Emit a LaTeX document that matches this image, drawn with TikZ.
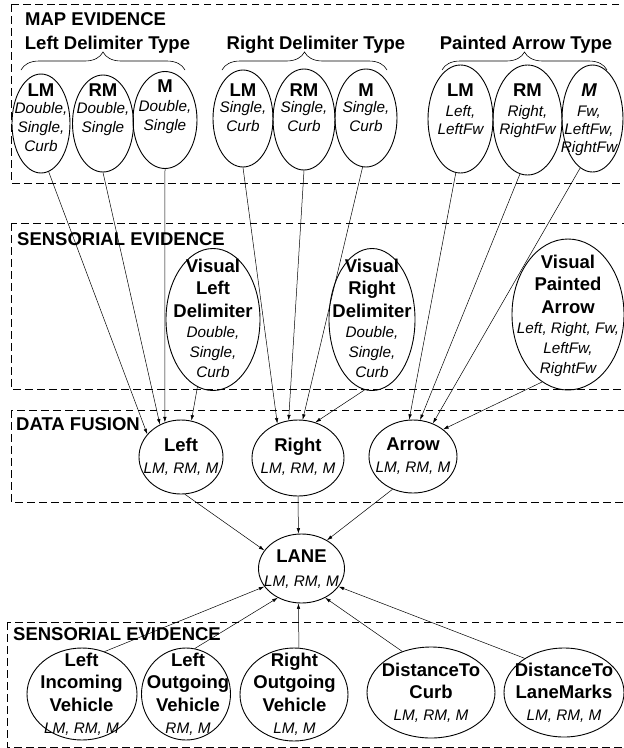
\documentclass[tikz,border=0pt]{standalone}
\usepackage{fontspec}
\setmainfont{Liberation Sans}
\usetikzlibrary{shapes.geometric,arrows.meta,decorations.pathreplacing}
\newcommand\BFl[1]{{\fontsize{18.5}{18.5}\selectfont\bfseries\upshape #1}}
\newcommand\BFi[1]{{\fontsize{18.5}{18.5}\selectfont\bfseries\itshape #1}}
\begin{document}
\begin{tikzpicture}[x=1pt,y=-1pt,
  ell/.style={draw, ellipse, inner sep=0pt, line width=0.9pt},
  tx/.style={align=center, inner sep=0pt, anchor=north, font=\fontsize{15.3}{#1}\selectfont\itshape},
  ttl/.style={inner sep=0pt, anchor=base, font=\fontsize{18.5}{22}\selectfont\bfseries},
  dbox/.style={draw, line width=0.9pt, dash pattern=on 7.5pt off 4.5pt},
  arr/.style={line width=0.5pt, -{Latex[length=5.5pt,width=3.5pt]}},
  brc/.style={decorate, decoration={brace, amplitude=18pt}, line width=0.6pt}]
\useasboundingbox (0,0) rectangle (624,748);

% dashed boxes
\draw[dbox] (11,4) rectangle (628,183);
\draw[dbox] (11,223) rectangle (628,389);
\draw[dbox] (11,410) rectangle (628,502);
\draw[dbox] (7,622) rectangle (628,747);

% titles
\node[ttl, anchor=base west] (mapT) at (25,25) {MAP EVIDENCE};
\node[ttl] (ldt) at (107.5,49) {Left Delimiter Type};
\node[ttl] (rdt) at (316,49) {Right Delimiter Type};
\node[ttl] (pat) at (526,49) {Painted Arrow Type};
\node[ttl, anchor=base west] (seT) at (17,245) {SENSORIAL EVIDENCE};
\node[ttl, anchor=base west] (dfT) at (16,430) {DATA FUSION};
\node[ttl, anchor=base west] (seB) at (13,640) {SENSORIAL EVIDENCE};

% braces
\draw[brc] (21,70) -- (185,70);
\draw[brc] (222,70) -- (387,70);
\draw[brc] (442,70) -- (607,70);

% map evidence ellipses
\node[ell, minimum width=58pt, minimum height=99pt] (ll1) at (41,123.5) {};
\node[ell, minimum width=61pt, minimum height=97pt] (ll2) at (103,123.5) {};
\node[ell, minimum width=64pt, minimum height=97pt] (ll3) at (165,120) {};
\node[ell, minimum width=60pt, minimum height=97pt] (rl1) at (243,118.5) {};
\node[ell, minimum width=62pt, minimum height=101pt] (rl2) at (304,119.5) {};
\node[ell, minimum width=62pt, minimum height=98pt] (rl3) at (366,118) {};
\node[ell, minimum width=65pt, minimum height=108pt] (pl1) at (460.5,119) {};
\node[ell, minimum width=69pt, minimum height=110pt] (pl2) at (527.5,120) {};
\node[ell, minimum width=61pt, minimum height=107pt] (pl3) at (592.5,118.5) {};

\node[tx=19] (ll1t) at (41,83.7) {\BFl{LM}\\[-2pt]Double,\\Single,\\Curb};
\node[tx=19] (ll2t) at (103,83.7) {\BFl{RM}\\[-2pt]Double,\\Single};
\node[tx=19] (ll3t) at (165,79.4) {\BFl{M}\\Double,\\Single};
\node[tx=18.4] (rl1t) at (243,83.4) {\BFl{LM}\\[-1.8pt]Single,\\Curb};
\node[tx=18.4] (rl2t) at (304,83.4) {\BFl{RM}\\[-1.8pt]Single,\\Curb};
\node[tx=18.4] (rl3t) at (366,83.4) {\BFl{M}\\[-1.8pt]Single,\\Curb};
\node[tx=18.3] (pl1t) at (460.5,83.4) {\BFl{LM}\\[1.7pt]Left,\\LeftFw};
\node[tx=18.3] (pl2t) at (527.5,83.4) {\BFl{RM}\\[1.7pt]Right,\\RightFw};
\node[tx=18.3] (pl3t) at (589,83.4) {\BFi{M}\\[1.7pt]Fw,\\LeftFw,\\RightFw};

% sensorial (visual) ellipses
\node[ell, minimum width=94pt, minimum height=142pt] (vl) at (213,319.5) {};
\node[ell, minimum width=86pt, minimum height=142pt] (vr) at (372,319.5) {};
\node[ell, minimum width=112pt, minimum height=151pt] (vp) at (568,314.5) {};
\node[tx=20] (vlt) at (213,258.7) {\BFl{Visual}\\[2.5pt]\BFl{Left}\\[2.5pt]\BFl{Delimiter}\\Double,\\Single,\\Curb};
\node[tx=20] (vrt) at (372,258.7) {\BFl{Visual}\\[2.5pt]\BFl{Right}\\[2.5pt]\BFl{Delimiter}\\Double,\\Single,\\Curb};
\node[tx=20] (vpt) at (568,255) {\BFl{Visual}\\[2.3pt]\BFl{Painted}\\[2.3pt]\BFl{Arrow}\\Left, Right, Fw,\\LeftFw,\\RightFw};

% data fusion
\node[ell, minimum width=84pt, minimum height=74pt] (fl) at (181,457) {};
\node[ell, minimum width=92pt, minimum height=76pt] (fr) at (298,458) {};
\node[ell, minimum width=88pt, minimum height=73pt] (fa) at (413,456.5) {};
\node[tx=22] (flt) at (181,438.2) {\BFl{Left}\\LM, RM, M};
\node[tx=22] (frt) at (298,438.2) {\BFl{Right}\\LM, RM, M};
\node[tx=22.5] (fat) at (413,437.2) {\BFl{Arrow}\\LM, RM, M};

% lane
\node[ell, minimum width=86pt, minimum height=69pt] (lane) at (301.5,568.5) {};
\node[tx=23.4] (lanet) at (301.5,550) {\BFl{LANE}\\LM, RM, M};

% bottom sensorial
\node[ell, minimum width=110pt, minimum height=92pt] (liv) at (82,694) {};
\node[ell, minimum width=89pt, minimum height=92pt] (lov) at (186,694) {};
\node[ell, minimum width=108pt, minimum height=93pt] (rov) at (294,694.5) {};
\node[ell, minimum width=128pt, minimum height=91pt] (dtc) at (431,692.5) {};
\node[ell, minimum width=120pt, minimum height=89pt] (dtl) at (564,692.5) {};
\node[tx=22.4] (livt) at (81.5,652.7) {\BFl{Left}\\\BFl{Incoming}\\\BFl{Vehicle}\\LM, RM, M};
\node[tx=22.4] (lovt) at (188,652.7) {\BFl{Left}\\\BFl{Outgoing}\\\BFl{Vehicle}\\RM, M};
\node[tx=22.4] (rovt) at (294.5,652.7) {\BFl{Right}\\\BFl{Outgoing}\\\BFl{Vehicle}\\LM, M};
\node[tx=22] (dtct) at (431,662.7) {\BFl{DistanceTo}\\\BFl{Curb}\\LM, RM, M};
\node[tx=22] (dtlt) at (564,662.7) {\BFl{DistanceTo}\\\BFl{LaneMarks}\\LM, RM, M};

% connectors into Left
\draw[arr] (ll1.279) -- (fl.146);
\draw[arr] (ll2.270) -- (fl.123);
\draw[arr] (ll3.270) -- (fl.115);
\draw[arr] (vl.257) -- (fl.74);
% into Right
\draw[arr] (rl1.270) -- (fr.121);
\draw[arr] (rl2.270) -- (fr.104);
\draw[arr] (rl3.266) -- (fr.83);
\draw[arr] (vr.264) -- (fr.64);
% into Arrow
\draw[arr] (pl1.265) -- (fa.96);
\draw[arr] (pl2.262) -- (fa.79);
\draw[arr] (pl3.256) -- (fa.59);
\draw[arr] (vp.249) -- (fa.42);
% into LANE
\draw[arr] (fl.276) -- (lane.154);
\draw[arr] (fr.270) -- (lane.95);
\draw[arr] (fa.238) -- (lane.48);
\draw[arr] (liv.62) -- (lane.206);
\draw[arr] (lov.79) -- (lane.231);
\draw[arr] (rov.84) -- (lane.265);
\draw[arr] (dtc.125) -- (lane.309);
\draw[arr] (dtl.139) -- (lane.334);
\end{tikzpicture}
\end{document}
